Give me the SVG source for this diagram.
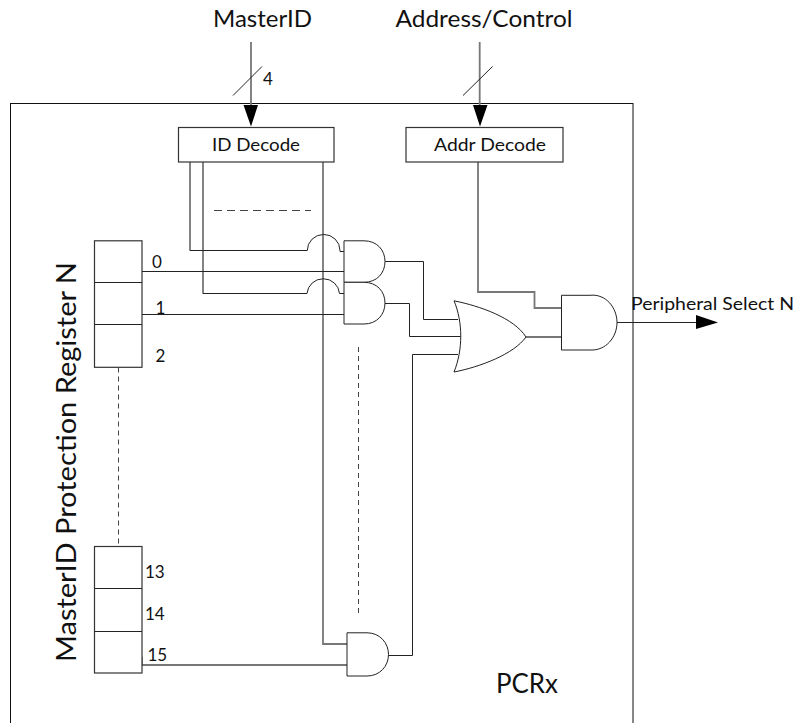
<svg xmlns="http://www.w3.org/2000/svg" width="795" height="723" viewBox="0 0 795 723">
<style>
text{font-family:"Lato","Open Sans","Liberation Sans",sans-serif;fill:#111}
.g{fill:#fff;stroke:#222;stroke-width:1}
.b{fill:#fff;stroke:#333;stroke-width:1.2}
.w{fill:none;stroke:#222;stroke-width:1}
.t{fill:none;stroke:#777;stroke-width:1.800}
.d{fill:none;stroke:#444;stroke-width:1;stroke-dasharray:8 5}
.d2{fill:none;stroke:#444;stroke-width:1;stroke-dasharray:5 4}
.h{fill:#000;stroke:none}
.s{font-size:18px}
.m{font-size:17px}
.u{font-size:23.500px}
</style>
<rect id="pcrx-frame" x="10.500" y="103.500" width="622.500" height="640" fill="none" stroke="#111" stroke-width="1"/>
<g id="connectors">
<path class="t" d="M251 42V110M479.700 42V110"/>
<path class="w" d="M233 95.500L262 66.500M463 95.500L492.500 66.500"/>
<path class="h" d="M243.500 105H258L251 126.500ZM473 105H487.500L480 126.500Z"/>
<path class="t" d="M190 162V250.700M203 162V293.700M323 162V644H347M478 162V292H534.500V308H561M526 337H561"/>
<path class="w" d="M190 250.500H307.300A16.300 16 0 0 1 340 250.500V251.500H344M203 293.500H307A16.300 16 0 0 1 339.500 293.500H344"/>
<path class="w" d="M142 271.500H344M142 314.500H344"/>
<path class="w" d="M385 261.500H423.500V319.500H458"/>
<path class="w" d="M385 303.500H409.500V336.500H461"/>
<path class="w" d="M388.500 655.500H412.500V354.500H458"/>
<path class="t" d="M142 665H347"/>
<path class="w" d="M142 657V665"/>
<path class="w" d="M617 322.500H700"/>
<path class="h" d="M696 315V329L718 322.500Z"/>
<path class="d" d="M214 210.500H311"/>
<path class="d2" d="M358.500 347V617"/>
<path class="d2" d="M118.500 367.500V546"/>
</g>
<g id="id-decode"><rect class="b" x="178.500" y="127.500" width="155.500" height="34.500"/><text class="s" x="212" y="151" textLength="88" lengthAdjust="spacingAndGlyphs">ID Decode</text></g>
<g id="addr-decode"><rect class="b" x="406" y="127.500" width="157" height="34.500"/><text class="s" x="434" y="151" textLength="112" lengthAdjust="spacingAndGlyphs">Addr Decode</text></g>
<g id="and-0"><path class="g" d="M344 240.800H364C377 240.800 385 250 385 261.500C385 273 377 282.300 364 282.300H344Z"/></g>
<g id="and-1"><path class="g" d="M344 282.300H364C377 282.300 385 291.500 385 303C385 314.500 377 324 364 324H344Z"/></g>
<g id="and-15"><path class="g" d="M347 632.800H367C380 632.800 388.500 643 388.500 654.500C388.500 666 380 676 367 676H347Z"/></g>
<g id="or-gate"><path class="g" d="M454 300.800C480 306 514 318 526 337C514 354 480 367 454 372C463 350 463 322 454 300.800Z"/></g>
<g id="and-out"><path class="g" d="M561.500 295.300H590C606 293.500 617 308 617 322.500C617 337 606 351 590 350H561.500Z"/></g>
<g id="register-top"><rect class="b" x="94.500" y="240.800" width="47.500" height="126.500"/><path class="w" d="M94.500 282.500H142M94.500 324.500H142"/></g>
<g id="register-bottom"><rect class="b" x="94.500" y="546.500" width="47.500" height="126.500"/><path class="w" d="M94.500 588.500H142M94.500 631.500H142"/></g>
<g id="labels">
<text class="u" x="213" y="27" textLength="99" lengthAdjust="spacingAndGlyphs">MasterID</text>
<text class="u" x="395.500" y="27" textLength="177" lengthAdjust="spacingAndGlyphs">Address/Control</text>
<text class="m" x="263" y="85">4</text>
<text class="m" x="152" y="267.500">0</text>
<text class="m" x="155.500" y="314">1</text>
<text class="m" x="155.500" y="361.500">2</text>
<text class="m" x="145" y="577.500">13</text>
<text class="m" x="145" y="620">14</text>
<text class="m" x="147.500" y="660.500">15</text>
<text class="s" x="631" y="310" textLength="163" lengthAdjust="spacingAndGlyphs">Peripheral Select N</text>
<text x="496" y="693" style="font-size:26px" textLength="62" lengthAdjust="spacingAndGlyphs">PCRx</text>
<text transform="translate(76 662) rotate(-90)" style="font-size:27px" textLength="400" lengthAdjust="spacingAndGlyphs">MasterID Protection Register N</text>
</g>
</svg>
